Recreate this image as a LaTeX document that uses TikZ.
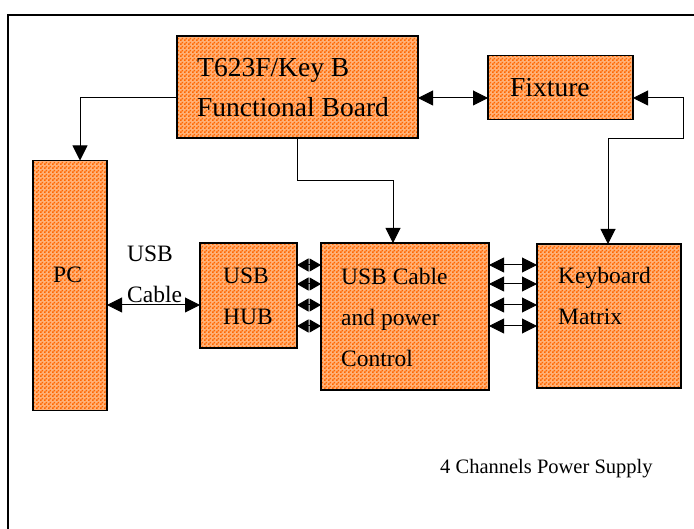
\documentclass[tikz,border=0pt]{standalone}
\usepackage{fontspec}
\setmainfont{Liberation Serif}
\usetikzlibrary{arrows.meta,patterns.meta}
\definecolor{boxorange}{RGB}{255,102,0}
\definecolor{boxlight}{RGB}{255,178,120}
\tikzdeclarepattern{
  name=chk,
  type=uncolored,
  bounding box={(0pt,0pt) and (4pt,4pt)},
  tile size={(4pt,4pt)},
  code={
    \pgfpathrectangle{\pgfpointorigin}{\pgfqpoint{2pt}{2pt}}
    \pgfpathrectangle{\pgfqpoint{2pt}{2pt}}{\pgfqpoint{2pt}{2pt}}
    \pgfusepath{fill}
  }
}
\tikzset{
  blockbox/.style={draw, line width=1.5pt, preaction={fill=boxlight}, pattern=chk, pattern color=boxorange, inner sep=0pt, outer sep=0pt},
  tipbig/.tip={Triangle[length=15pt,width=15pt]},
  tipsmall/.tip={Triangle[length=11.5pt,width=13pt]},
  arr/.style={-tipbig, line width=1pt},
  darr/.style={tipbig-tipbig, line width=1pt},
  sdarr/.style={tipsmall-tipsmall, line width=1pt},
  bigtxt/.style={anchor=base west, inner sep=0pt, font=\fontsize{27.5}{31}\selectfont},
  txt/.style={anchor=base west, inner sep=0pt, font=\fontsize{23.5}{27}\selectfont},
  smalltxt/.style={anchor=base west, inner sep=0pt, font=\fontsize{20.5}{24}\selectfont}
}
\begin{document}
\begin{tikzpicture}[x=1pt,y=-1pt]
\clip (0,0) rectangle (694,529);
\draw[line width=1.5pt] (8,15) rectangle (698,533);

% boxes
\node[blockbox, minimum width=241pt, minimum height=102pt] (board) at (297.5,87) {};
\node[blockbox, minimum width=145pt, minimum height=64pt] (fixture) at (560.5,87.5) {};
\node[blockbox, minimum width=74pt, minimum height=250pt] (pc) at (70,285.5) {};
\node[blockbox, minimum width=97pt, minimum height=105pt] (hub) at (248.5,295.5) {};
\node[blockbox, minimum width=168pt, minimum height=147pt] (ctrl) at (405,316.5) {};
\node[blockbox, minimum width=144pt, minimum height=144pt] (kbd) at (609,316) {};

% texts
\node[bigtxt] (t1) at (197,77) {T623F/Key B};
\node[bigtxt] (t2) at (197,117) {Functional Board};
\node[bigtxt] (t3) at (510,97) {Fixture};
\node[txt] (t4) at (53,283) {PC};
\node[txt] (t5) at (127,262) {USB};
\node[txt] (t6) at (127,303) {Cable};
\node[txt] (t7) at (223,284) {USB};
\node[txt] (t8) at (223,325) {HUB};
\node[txt] (t9) at (341,285) {USB Cable};
\node[txt] (t10) at (341,326) {and power};
\node[txt] (t11) at (341,367) {Control};
\node[txt] (t12) at (558,284) {Keyboard};
\node[txt] (t13) at (558,325) {Matrix};
\node[smalltxt] (t14) at (440,474) {4 Channels Power Supply};

% connectors
\coordinate (yb) at (0,98);
\coordinate (pa) at (80,98);
\draw[arr] (board.west |- yb) -- (pa) -- (pa |- pc.north);
\draw[darr] (board.east |- yb) -- (fixture.west |- yb);
\coordinate (f1) at (683,98);
\coordinate (f2) at (608,139);
\draw[darr] (fixture.east |- yb) -- (f1) |- (f2) -- (f2 |- kbd.north);
\coordinate (c1) at (393,181);
\draw[arr] (board.south) |- (c1) -- (c1 |- ctrl.north);
\coordinate (yp) at (0,305);
\draw[darr] (pc.east |- yp) -- (hub.west |- yp);
\foreach \yy in {265,284,305,326}{
  \coordinate (ya) at (0,\yy);
  \draw[sdarr] (hub.east |- ya) -- (ctrl.west |- ya);
  \draw[darr] (ctrl.east |- ya) -- (kbd.west |- ya);
}
\end{tikzpicture}
\end{document}
